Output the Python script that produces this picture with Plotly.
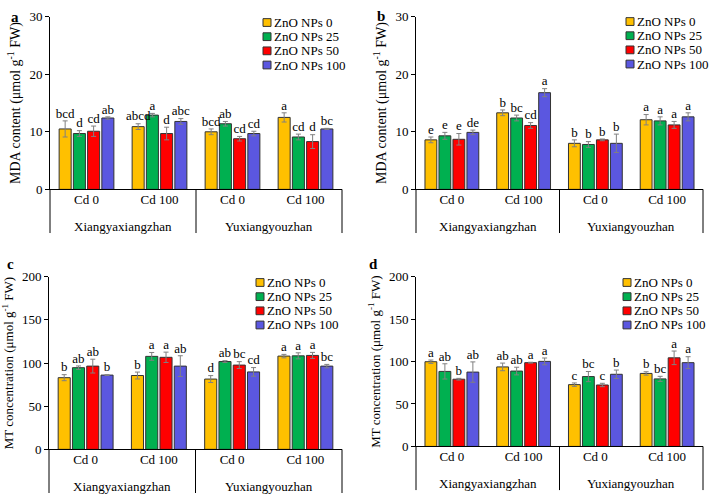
import plotly.graph_objects as go

# groups on the x axis: (cultivar, Cd level)
cd_labels = ["Cd 0", "Cd 100", "Cd 0", "Cd 100"]
cultivars = ["Xiangyaxiangzhan", "Yuxiangyouzhan"]
series_names = ["ZnO NPs 0", "ZnO NPs 25", "ZnO NPs 50", "ZnO NPs 100"]
series_colors = ["#FFC000", "#00B050", "#FF0000", "#5B57E0"]

# panel a - MDA content (rows = ZnO level, cols = groups)
a_means = [[10.5, 10.9, 10.0, 12.5],
           [9.7, 12.9, 11.4, 9.1],
           [10.1, 9.7, 8.8, 8.3],
           [12.4, 11.8, 9.7, 10.5]]
a_errs = [[1.4, 0.5, 0.5, 0.8],
          [0.5, 0.3, 0.4, 0.5],
          [0.9, 1.1, 0.4, 1.2],
          [0.2, 0.5, 0.4, 0.1]]
a_letters = [["bcd", "abcd", "bcd", "a"],
             ["d", "a", "ab", "cd"],
             ["cd", "d", "cd", "d"],
             ["ab", "abc", "cd", "bc"]]

# panel b - MDA content
b_means = [[8.6, 13.3, 8.0, 12.1],
           [9.3, 12.4, 7.8, 11.9],
           [8.7, 11.1, 8.6, 11.2],
           [9.9, 16.8, 8.0, 12.6]]
b_errs = [[0.5, 0.5, 0.6, 0.9],
          [0.6, 0.5, 0.5, 0.7],
          [1.0, 0.5, 0.15, 0.6],
          [0.4, 0.7, 1.6, 0.7]]
b_letters = [["e", "b", "b", "a"],
             ["e", "bc", "b", "a"],
             ["e", "cd", "b", "a"],
             ["de", "a", "b", "a"]]

# panel c - MT concentration
c_means = [[83, 85.5, 81.4, 108],
           [94.6, 107.7, 101.7, 108.3],
           [96.4, 106.6, 97.6, 108.8],
           [86, 96.4, 89.7, 96.4]]
c_errs = [[3.5, 4, 4, 2],
          [2, 4.5, 1, 3.5],
          [8, 6, 4, 3.5],
          [0.5, 12, 5, 2]]
c_letters = [["b", "b", "d", "a"],
             ["ab", "a", "ab", "a"],
             ["ab", "a", "bc", "a"],
             ["b", "ab", "cd", "bc"]]

# panel d - MT concentration
d_means = [[99.8, 93.7, 72.8, 86],
           [88.4, 88.8, 82.3, 79.6],
           [79.2, 98.7, 72.4, 104.4],
           [87.6, 100.2, 85, 98.7]]
d_errs = [[2, 4.5, 2, 2],
          [9, 4.5, 6, 3],
          [1, 0.5, 2, 8],
          [12, 4, 5, 7]]
d_letters = [["a", "ab", "c", "b"],
             ["ab", "ab", "bc", "bc"],
             ["b", "a", "c", "a"],
             ["ab", "a", "b", "a"]]

FONT = "Times New Roman, Liberation Serif, serif"
W, H = 709, 501

# px/py: plot area in pixels; leg: legend key left edge and first row centre;
# tagpos: panel letter position
panels = [
    dict(tag="a", means=a_means, errs=a_errs, letters=a_letters, ymax=30, dtick=10,
         title="MDA content (μmol g<sup>-1</sup> FW)", tsize=14,
         px=(50, 342), py=(10, 188), leg=(263, 16), tagpos=(9, 10)),
    dict(tag="b", means=b_means, errs=b_errs, letters=b_letters, ymax=30, dtick=10,
         title="MDA content (μmol g<sup>-1</sup> FW)", tsize=14,
         px=(416, 703), py=(10, 188), leg=(626, 15), tagpos=(375, 9)),
    dict(tag="c", means=c_means, errs=c_errs, letters=c_letters, ymax=200, dtick=50,
         title="MT concentration (μmol g<sup>-1</sup> FW)", tsize=13,
         px=(49, 342), py=(278, 456), leg=(256, 284), tagpos=(5, 265)),
    dict(tag="d", means=d_means, errs=d_errs, letters=d_letters, ymax=200, dtick=50,
         title="MT concentration (μmol g<sup>-1</sup> FW)", tsize=13,
         px=(416, 703), py=(278, 453), leg=(623, 284), tagpos=(367, 265)),
]

pitch = 0.195
bar_w = 0.165
groups = list(range(len(cd_labels)))
row_gap = 14.6
key = 8

fig = go.Figure()
layout = dict(width=W, height=H, margin=dict(l=0, r=0, t=0, b=0),
              plot_bgcolor="white", paper_bgcolor="white",
              font=dict(family=FONT, size=13, color="black"),
              barmode="overlay", showlegend=False)
shapes, annotations = [], []

for i, p in enumerate(panels):
    n = "" if i == 0 else str(i + 1)
    xa, ya = "x" + n, "y" + n
    for s in range(4):
        xs = [g + (s - 1.5) * pitch for g in groups]
        fig.add_trace(go.Bar(
            x=xs, y=p["means"][s], width=bar_w, name=series_names[s],
            marker=dict(color=series_colors[s], line=dict(color="#333333", width=1)),
            error_y=dict(type="data", array=p["errs"][s], color="#808080",
                         thickness=1, width=2.5),
            xaxis=xa, yaxis=ya))
        fig.add_trace(go.Scatter(
            x=xs, y=[m + e for m, e in zip(p["means"][s], p["errs"][s])],
            mode="text", text=p["letters"][s], textposition="top center",
            textfont=dict(family=FONT, size=13, color="black"),
            xaxis=xa, yaxis=ya, hoverinfo="skip"))

    x0, x1 = p["px"][0] / W, p["px"][1] / W
    y1, y0 = 1 - p["py"][0] / H, 1 - p["py"][1] / H
    dom_h = p["py"][1] - p["py"][0]
    below = -45 / dom_h

    layout["xaxis" + n] = dict(
        domain=[x0, x1], range=[-0.5, 3.5], anchor=ya,
        tickmode="array", tickvals=groups, ticktext=cd_labels,
        ticks="", ticklen=0, showline=True, linecolor="black", linewidth=1,
        showgrid=False, zeroline=False, ticklabelstandoff=-2,
        tickfont=dict(family=FONT, size=13))
    layout["yaxis" + n] = dict(
        domain=[y0, y1], range=[0, p["ymax"]], dtick=p["dtick"], anchor=xa,
        ticks="outside", ticklen=4, tickcolor="black",
        showline=True, linecolor="black", linewidth=1,
        showgrid=False, zeroline=False,
        tickfont=dict(family=FONT, size=13),
        title=dict(text=p["title"], font=dict(family=FONT, size=p["tsize"]), standoff=5))

    # legend: colour keys with labels
    lx, ly = p["leg"]
    for s in range(4):
        cy = ly + s * row_gap
        shapes.append(dict(type="rect", xref="paper", yref="paper",
                           x0=lx / W, x1=(lx + key) / W,
                           y0=1 - (cy + key / 2) / H, y1=1 - (cy - key / 2) / H,
                           fillcolor=series_colors[s], line=dict(color="#333333", width=1)))
        annotations.append(dict(text=series_names[s], xref="paper", yref="paper",
                                x=(lx + key + 1) / W, y=1 - cy / H,
                                xanchor="left", yanchor="middle", showarrow=False,
                                font=dict(family=FONT, size=13)))

    # dividers below the x axis
    for xd in [0, 0.5, 1]:
        shapes.append(dict(type="line", xref=xa + " domain", yref=ya + " domain",
                           x0=xd, x1=xd, y0=0, y1=below,
                           line=dict(color="black", width=1)))
    for k, name in enumerate(cultivars):
        annotations.append(dict(text=name, xref=xa, yref=ya + " domain",
                                x=0.5 + 2 * k, y=-38 / dom_h, yanchor="middle",
                                showarrow=False, font=dict(family=FONT, size=13)))
    tx, ty = p["tagpos"]
    annotations.append(dict(text="<b>" + p["tag"] + "</b>", xref="paper", yref="paper",
                            x=tx / W, y=1 - ty / H,
                            xanchor="left", yanchor="middle", showarrow=False,
                            font=dict(family=FONT, size=15)))

layout["shapes"] = shapes
layout["annotations"] = annotations
fig.update_layout(**layout)

# drop the page's default body margin so the figure fills the window
fig.write_html("out.html", config={"displayModeBar": False},
               post_script="document.body.style.margin='0';")
